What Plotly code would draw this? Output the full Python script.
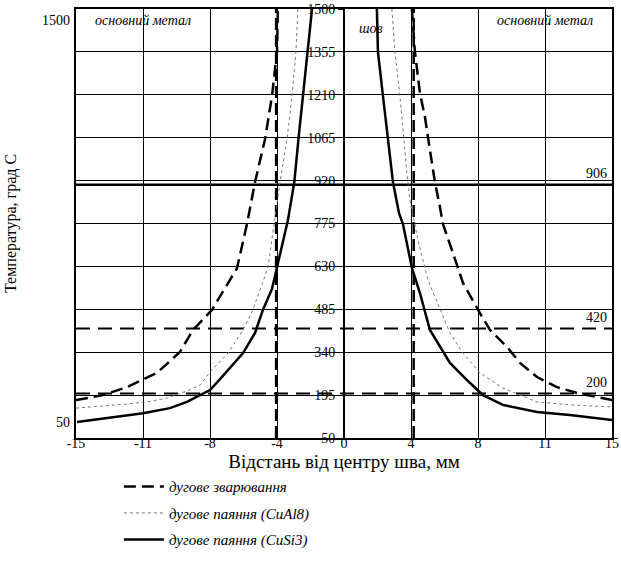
import plotly.graph_objects as go

# x positions on the (evenly spaced) distance axis, tick labels in mm
x_tick_pos = [-15, -11.25, -7.5, -3.75, 0, 3.75, 7.5, 11.25, 15]
x_tick_text = ['-15', '-11', '-8', '-4', '0', '4', '8', '11', '15']
y_ticks = [50, 195, 340, 485, 630, 775, 920, 1065, 1210, 1355, 1500]

# дугове зварювання (dashed)
weld_left_x = [-15.0, -13.49, -12.15, -10.47, -9.18, -8.45, -7.39, -5.99, -5.43, -4.98, -4.42, -4.03, -3.75, -3.70]
weld_left_y = [178, 195, 222, 270, 341, 415, 483, 624, 773, 915, 1060, 1206, 1355, 1500]
weld_right_x = [3.80, 3.97, 4.25, 4.53, 4.81, 5.09, 5.37, 5.54, 6.10, 6.66, 7.61, 8.17, 9.12, 9.85, 10.80, 11.92, 13.04, 15.0]
weld_right_y = [1500, 1355, 1216, 1135, 1023, 915, 831, 773, 675, 574, 472, 415, 358, 304, 256, 222, 202, 178]

# дугове паяння (CuAl8) (dotted)
al_left_x = [-15.0, -13.49, -12.15, -11.03, -9.91, -8.79, -8.06, -7.50, -6.49, -5.65, -5.10, -4.26, -3.92, -3.75, -3.58, -3.19, -2.91, -2.69, -2.58]
al_left_y = [151, 158, 165, 172, 185, 209, 229, 273, 337, 415, 483, 625, 773, 854, 915, 1060, 1206, 1355, 1500]
al_right_x = [2.68, 2.85, 3.13, 3.30, 3.52, 3.69, 4.14, 4.70, 5.37, 5.93, 6.66, 7.61, 8.89, 10.80, 12.64, 15.0]
al_right_y = [1500, 1355, 1206, 1081, 946, 854, 719, 584, 483, 405, 337, 270, 219, 172, 162, 155]

# дугове паяння (CuSi3) (solid)
si_left_x = [-14.94, -13.10, -11.25, -9.74, -8.79, -8.06, -7.50, -6.94, -5.65, -4.98, -4.54, -4.03, -3.81, -3.58, -3.30, -3.14, -2.95, -2.78, -2.55, -2.30, -2.06, -1.79]
si_left_y = [104, 118, 134, 151, 172, 195, 212, 249, 337, 405, 483, 554, 611, 675, 743, 786, 854, 915, 1060, 1206, 1355, 1500]
si_right_x = [1.84, 1.90, 2.18, 2.46, 2.74, 3.08, 3.30, 3.80, 4.25, 4.81, 5.37, 5.93, 6.88, 7.78, 8.89, 10.80, 12.64, 15.0]
si_right_y = [1500, 1355, 1206, 1060, 915, 810, 773, 625, 540, 415, 358, 304, 246, 195, 162, 138, 128, 111]

# reference levels
ref_levels = [906, 420, 200]
ref_labels = ['906', '420', '200']
seam_bounds = [-3.8, 3.9]

FONT = 'Liberation Serif'
fig = go.Figure()

# vertical seam boundaries
for xb in seam_bounds:
    fig.add_trace(go.Scatter(x=[xb, xb], y=[50, 1500], mode='lines',
                             line=dict(color='black', width=2.5, dash='12px,5px'),
                             showlegend=False, hoverinfo='skip'))
# horizontal reference levels
fig.add_trace(go.Scatter(x=[-15, 15], y=[ref_levels[0]] * 2, mode='lines',
                         line=dict(color='black', width=2.5), showlegend=False, hoverinfo='skip'))
for lv in ref_levels[1:]:
    fig.add_trace(go.Scatter(x=[-15, 15], y=[lv, lv], mode='lines',
                             line=dict(color='black', width=2, dash='14px,8px'),
                             showlegend=False, hoverinfo='skip'))

# curves
def add_pair(xl, yl, xr, yr, name, line, group):
    fig.add_trace(go.Scatter(x=xl, y=yl, mode='lines', line=line, name=name,
                             legendgroup=group, showlegend=True))
    fig.add_trace(go.Scatter(x=xr, y=yr, mode='lines', line=line, name=name,
                             legendgroup=group, showlegend=False))

add_pair(weld_left_x, weld_left_y, weld_right_x, weld_right_y, 'дугове зварювання',
         dict(color='black', width=2.5, dash='12px,6px'), 'g1')
add_pair(al_left_x, al_left_y, al_right_x, al_right_y, 'дугове паяння (CuAl8)',
         dict(color='#777777', width=1, dash='dot'), 'g2')
add_pair(si_left_x, si_left_y, si_right_x, si_right_y, 'дугове паяння (CuSi3)',
         dict(color='black', width=2.5), 'g3')

# centre axis line (on y2)
fig.add_trace(go.Scatter(x=[0, 0], y=[50, 1500], mode='lines', yaxis='y2',
                         line=dict(color='black', width=2), showlegend=False, hoverinfo='skip'))

ital = dict(family=FONT, size=14, color='black', style='italic')
plain = dict(family=FONT, size=14, color='black')
annotations = [
    dict(x=-11.25, y=1500, yref='y', text='основний метал', showarrow=False,
         yanchor='top', yshift=-2, font=ital),
    dict(x=11.25, y=1500, yref='y', text='основний метал', showarrow=False,
         yanchor='top', yshift=-2, font=ital),
    dict(x=1.5, y=1500, yref='y', text='шов', showarrow=False,
         yanchor='top', yshift=-10, font=ital),
    dict(x=0, xref='paper', y=1462, yref='y', text='1500', showarrow=False,
         xanchor='right', xshift=-4, font=plain),
    dict(x=0, xref='paper', y=101, yref='y', text='50', showarrow=False,
         xanchor='right', xshift=-4, font=plain),
]
for lv, lb in zip(ref_levels, ref_labels):
    annotations.append(dict(x=15, y=lv, text=lb, showarrow=False, xanchor='right',
                            yanchor='bottom', xshift=-3, yshift=2, font=plain))

fig.update_layout(
    width=621, height=577,
    margin=dict(l=76, r=9, t=9, b=139, autoexpand=False),
    paper_bgcolor='white', plot_bgcolor='white',
    font=dict(family=FONT, size=14, color='black'),
    xaxis=dict(range=[-15, 15], tickvals=x_tick_pos, ticktext=x_tick_text,
               showgrid=True, gridcolor='black', gridwidth=1, zeroline=False,
               showline=True, linecolor='black', linewidth=1.5, mirror=True,
               ticks='', tickfont=dict(family=FONT, size=14), ticklabeloverflow='allow',
               ticklabelstandoff=-9, automargin=False,
               title=dict(text='Відстань від центру шва, мм', font=dict(family=FONT, size=19),
                          standoff=3)),
    yaxis=dict(range=[50, 1500], tickvals=y_ticks, showticklabels=False,
               showgrid=True, gridcolor='black', gridwidth=1, zeroline=False,
               showline=True, linecolor='black', linewidth=1.5, mirror=True, ticks='',
               automargin=False,
               title=dict(text='Температура, град С', font=dict(family=FONT, size=16),
                          standoff=54)),
    yaxis2=dict(range=[50, 1500], tickvals=y_ticks, overlaying='y', anchor='free',
                position=0.5, side='left', showgrid=False, zeroline=False,
                showline=True, linecolor='black', linewidth=2, ticks='outside',
                ticklen=5, tickcolor='black', tickfont=dict(family=FONT, size=14),
                automargin=False),
    legend=dict(x=0.08, y=-0.075, xanchor='left', yanchor='top',
                font=dict(family=FONT, size=15, style='italic'), tracegroupgap=4,
                itemwidth=40, bgcolor='rgba(0,0,0,0)'),
    annotations=annotations,
    showlegend=True,
)

fig.write_html('out.html', config={'displayModeBar': False},
               post_script="document.body.style.margin='0px';")
